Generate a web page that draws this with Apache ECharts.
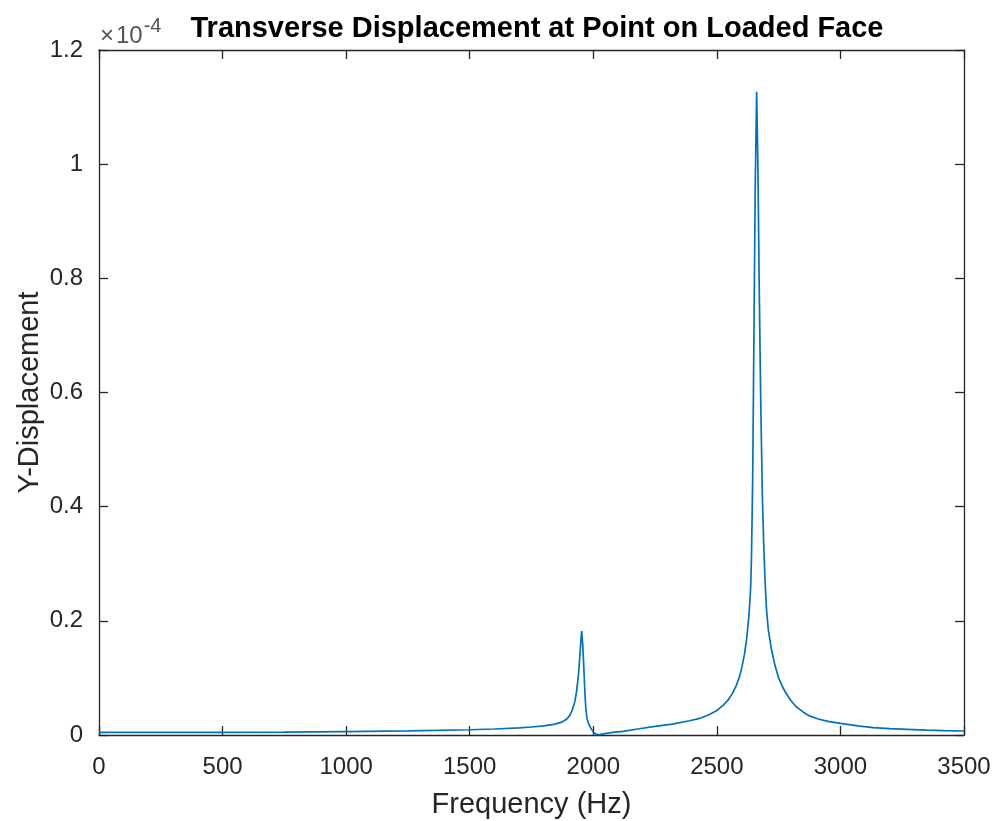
<!DOCTYPE html>
<html>
<head>
<meta charset="utf-8">
<script src="https://cdn.jsdelivr.net/npm/echarts@6/dist/echarts.min.js"></script>
<style>
html,body{margin:0;padding:0;background:#fff;}
#chart{width:997px;height:821px;}
</style>
</head>
<body>
<div id="chart"></div>
<script>
// Frequency (Hz) and Y-displacement (in units of 1e-4)
const freqHz = [
  0, 250, 500, 750, 1000, 1250, 1500, 1600, 1700, 1750, 1800, 1840, 1870, 1890, 1905, 1915, 1925, 1932, 1940, 1945, 1950, 1953,
  1957, 1961, 1966, 1970, 1975, 1982, 1990, 2000, 2010, 2020, 2040, 2080, 2120, 2180, 2250, 2320, 2390, 2430, 2470, 2500,
  2525, 2545, 2562, 2577, 2590, 2601, 2612, 2621, 2630, 2637, 2640, 2645, 2650, 2655, 2661, 2666, 2671, 2677, 2684, 2690, 2695, 2701, 2708,
  2720, 2735, 2750, 2765, 2780, 2800, 2820, 2850, 2877, 2910, 2950, 3000, 3070, 3133, 3200, 3270, 3350, 3420, 3500
];
const yDispE4 = [
  0.0045, 0.0045, 0.0047, 0.0052, 0.006, 0.0072, 0.0092, 0.0105, 0.0125, 0.014, 0.016, 0.0185, 0.022, 0.027, 0.034, 0.044, 0.058, 0.075, 0.105, 0.135, 0.165, 0.182,
  0.16, 0.125, 0.075, 0.045, 0.028, 0.019, 0.012, 0.005, 0.002, 0.0003, 0.002, 0.0045, 0.0065, 0.0105, 0.015, 0.019, 0.025, 0.029, 0.036, 0.043,
  0.052, 0.061, 0.072, 0.085, 0.1, 0.118, 0.142, 0.17, 0.21, 0.26, 0.31, 0.45, 0.7, 0.95, 1.127, 1.0, 0.8, 0.6, 0.42, 0.33, 0.27, 0.22, 0.185,
  0.152, 0.122, 0.1, 0.085, 0.073, 0.06, 0.05, 0.04, 0.033, 0.028, 0.024, 0.0205, 0.016, 0.013, 0.011, 0.0098, 0.0085, 0.0077, 0.007
];
const xTicks = [0, 500, 1000, 1500, 2000, 2500, 3000, 3500];
const yTicks = [0, 0.2, 0.4, 0.6, 0.8, 1, 1.2];

const titleText = 'Transverse Displacement at Point on Loaded Face';
const xName = 'Frequency (Hz)';
const yName = 'Y-Displacement';

const axisColor = '#262626';
const lineColor = '#0072BD';
const FONT = '"Liberation Sans", Arial, Helvetica, sans-serif';

const data = freqHz.map((f, i) => [f, yDispE4[i]]);

const chart = echarts.init(document.getElementById('chart'), null, {renderer: 'canvas'});

const GRID = {left: 99, right: 33, top: 50, bottom: 86, containLabel: false, outerBoundsMode: 'none'};
const tickLen = 9;

function baseX(pos, showLabel) {
  return {
    type: 'value', position: pos, min: xTicks[0], max: xTicks[xTicks.length - 1], interval: 500,
    axisLine: {show: true, onZero: false, lineStyle: {color: axisColor, width: 1.3}},
    axisTick: {show: true, inside: true, length: tickLen, lineStyle: {color: axisColor, width: 1.3}},
    axisLabel: {show: showLabel, color: axisColor, fontFamily: FONT, fontSize: 24, margin: 20,
      formatter: v => String(Math.round(v))},
    splitLine: {show: false}
  };
}
function baseY(pos, showLabel) {
  return {
    type: 'value', position: pos, min: yTicks[0], max: yTicks[yTicks.length - 1], interval: 0.2,
    axisLine: {show: true, onZero: false, lineStyle: {color: axisColor, width: 1.3}},
    axisTick: {show: true, inside: true, length: tickLen, lineStyle: {color: axisColor, width: 1.3}},
    axisLabel: {show: showLabel, color: axisColor, fontFamily: FONT, fontSize: 24, margin: 16,
      formatter: v => (Math.round(v * 10) / 10).toString()},
    splitLine: {show: false}
  };
}

const xa0 = baseX('bottom', true);
xa0.name = xName;
xa0.nameLocation = 'middle';
xa0.nameGap = 55;
xa0.nameTextStyle = {color: axisColor, fontFamily: FONT, fontSize: 29};
const ya0 = baseY('left', true);
ya0.name = yName;
ya0.nameLocation = 'middle';
ya0.nameGap = 55;
ya0.nameMoveOverlap = false;
ya0.nameTextStyle = {color: axisColor, fontFamily: FONT, fontSize: 29};

chart.setOption({
  animation: false,
  backgroundColor: '#ffffff',
  title: {
    text: titleText, left: 532, top: 9, textAlign: 'center',
    textStyle: {color: '#000', fontFamily: FONT, fontSize: 29, fontWeight: 'bold'}
  },
  grid: GRID,
  xAxis: [xa0, baseX('top', false)],
  yAxis: [ya0, baseY('right', false)],
  graphic: [{
    type: 'text', left: 100, top: 16,
    style: {
      text: '{x|×}{a|10}{b|-4}',
      rich: {
        x: {fontFamily: FONT, fontSize: 24, fill: '#555', verticalAlign: 'bottom', padding: [0, 2, 0, 0]},
        a: {fontFamily: FONT, fontSize: 24, fill: '#555', verticalAlign: 'bottom'},
        b: {fontFamily: FONT, fontSize: 20, fill: '#555', verticalAlign: 'top', padding: [0, 0, 12, 1]}
      }
    }
  }],
  series: [{
    type: 'line', xAxisIndex: 0, yAxisIndex: 0, data: data, showSymbol: false, symbol: 'none',
    lineStyle: {color: lineColor, width: 1.7}, clip: true
  }]
});
</script>
</body>
</html>
